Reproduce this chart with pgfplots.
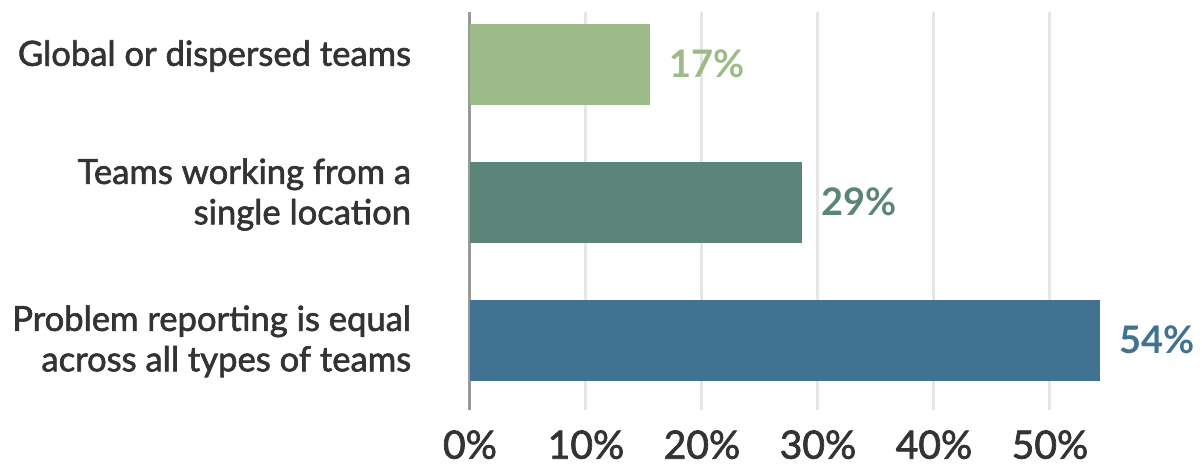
\documentclass[border=0pt]{standalone}
\usepackage{fontspec}
\setmainfont{Lato}
\newfontfamily\latomed{Lato}[FakeBold=1.8]
\usepackage{pgfplots}
\pgfplotsset{compat=1.18}
\definecolor{cgreen}{HTML}{9DBB88}
\definecolor{cteal}{HTML}{5C857A}
\definecolor{cblue}{HTML}{417291}
\definecolor{ctext}{HTML}{333333}
\definecolor{cgrid}{HTML}{E6E6E6}
\definecolor{caxis}{HTML}{999999}
\begin{document}
\begin{tikzpicture}
\begin{axis}[
  xbar, scale only axis, width=319pt, height=199pt,
  xmin=0, xmax=55, ymin=-0.507, ymax=2.377,
  bar width=40.5pt, bar shift=0pt,
  axis line style={draw=none}, tick style={draw=none},
  xtick={0,10,20,30,40,50},
  xticklabel={\pgfmathprintnumber{\tick}\%},
  /pgf/number format/assume math mode=true,
  xticklabel style={font=\latomed\fontsize{19.5}{22}\selectfont, text=ctext, anchor=north, inner sep=0pt, yshift=-10pt},
  xmajorgrids, grid style={cgrid, line width=1.5pt},
  extra x ticks={0}, extra x tick labels={},
  extra x tick style={grid style={caxis, line width=1.5pt}},
  ytick={0,1,2},
  yticklabels={{\raisebox{-5.5pt}[\height][\depth]{\begin{tabular}{@{}r@{}}Problem reporting is equal\\across all types of teams\end{tabular}}},{\raisebox{-1pt}[\height][\depth]{\begin{tabular}{@{}r@{}}Teams working from a\\single location\end{tabular}}},{Global or dispersed teams}},
  yticklabel style={font=\latomed\fontsize{17.3}{20.2}\selectfont, text=ctext, anchor=east, inner sep=0pt, xshift=-25pt, yshift=4pt},
  nodes near coords, point meta=explicit symbolic,
  nodes near coords style={font=\bfseries\fontsize{19}{22}\selectfont, anchor=west, inner sep=0pt, xshift=9.5pt},
]
\addplot[fill=cblue, draw=none, nodes near coords style={text=cblue}] coordinates {(54.3,0) [54\%]};
\addplot[fill=cteal, draw=none, nodes near coords style={text=cteal}] coordinates {(28.6,1) [29\%]};
\addplot[fill=cgreen, draw=none, nodes near coords style={text=cgreen}] coordinates {(15.5,2) [17\%]};
\coordinate (bl) at (rel axis cs:0,0);
\end{axis}
\pgfresetboundingbox
\path ([shift={(-235pt,-27pt)}]bl) rectangle ([shift={(366pt,205pt)}]bl);
\end{tikzpicture}
\end{document}
